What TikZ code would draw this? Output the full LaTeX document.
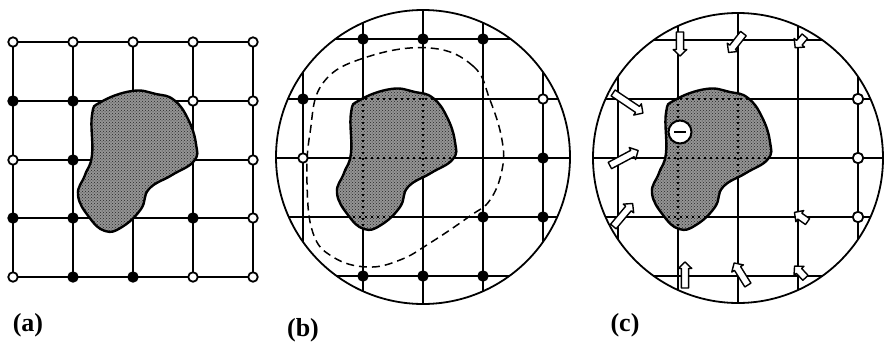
\documentclass[tikz,border=0pt]{standalone}
\usepackage{fontspec}
\setmainfont{Liberation Serif}
\usetikzlibrary{patterns}
\newcommand\blobshape{plot[smooth cycle,tension=0.75] coordinates {(28,-69) (52,-66) (70,-60) (84,-41) (92,-16) (90,1) (68,15) (45,29) (37,49) (18,67) (1,71) (-15,57) (-26,35) (-19,15) (-12,-5) (-12,-45) (-3,-58)}}
% block arrow: #1,#2 centre, #3 angle, #4 length
\newcommand\blockarrow[4]{%
  \begin{scope}[shift={(#1,#2)},rotate=#3]
    \pgfmathsetmacro\ha{#4/2}\pgfmathsetmacro\hb{#4/2-6.5}
    \draw[arrowbody] (-\ha,-3.6) -- (\hb,-3.6) -- (\hb,-6.8) -- (\ha,0) -- (\hb,6.8) -- (\hb,3.6) -- (-\ha,3.6) -- cycle;
  \end{scope}}
\begin{document}
\begin{tikzpicture}[x=1pt,y=-1pt,
  gridline/.style={line width=1.8pt},
  ring/.style={line width=1.8pt},
  nodeopen/.style={circle,draw,line width=1.8pt,fill=white,inner sep=0pt,minimum size=9.5pt},
  nodefull/.style={circle,draw,line width=1.8pt,fill=black,inner sep=0pt,minimum size=9.5pt},
  blobfill/.style={fill=black!42},
  blobdots/.style={pattern=crosshatch dots,pattern color=black!85},
  blobline/.style={line width=2.4pt},
  innerline/.style={line width=2pt,dash pattern=on 2pt off 4pt},
  dashline/.style={line width=1.5pt,dash pattern=on 8pt off 5pt},
  arrowbody/.style={fill=white,line width=1.4pt,line join=round},
  lab/.style={font=\bfseries\fontsize{26}{26}\selectfont,inner sep=0pt}
]
\useasboundingbox (0,0) rectangle (884,343);

% ---------------- panel (a)
\foreach \x in {13,73,133,193,253} \draw[gridline] (\x,42) -- (\x,277);
\foreach \y in {42,101,160,218,277} \draw[gridline] (13,\y) -- (253,\y);
\begin{scope}[shift={(104,160)}]
  \fill[blobfill] \blobshape;
  \fill[blobdots] \blobshape;
  \draw[blobline] \blobshape;
\end{scope}
\foreach \x/\y/\s/\n in {13/42/nodeopen/a11,73/42/nodeopen/a12,133/42/nodeopen/a13,193/42/nodeopen/a14,253/42/nodeopen/a15,
  13/101/nodefull/a21,73/101/nodefull/a22,193/101/nodeopen/a24,253/101/nodeopen/a25,
  13/160/nodeopen/a31,73/160/nodefull/a32,253/160/nodeopen/a35,
  13/218/nodefull/a41,73/218/nodefull/a42,193/218/nodefull/a44,253/218/nodeopen/a45,
  13/277/nodeopen/a51,73/277/nodefull/a52,133/277/nodefull/a53,193/277/nodeopen/a54,253/277/nodeopen/a55}
  \node[\s] (\n) at (\x,\y) {};

% ---------------- panel (b)
\begin{scope}
  \clip (423,157) circle (147);
  \foreach \x in {303,363,423,483,543} \draw[gridline] (\x,0) -- (\x,320);
  \foreach \y in {39,99,158,217,276} \draw[gridline] (260,\y) -- (590,\y);
\end{scope}
\draw[ring] (423,157) circle (147);
\begin{scope}[shift={(363,158)}]
  \fill[blobfill] \blobshape;
  \fill[blobdots] \blobshape;
  \begin{scope}
    \clip \blobshape;
    \foreach \x in {0,60} \draw[innerline] (\x,-90) -- (\x,90);
    \foreach \y in {-59,0,59} \draw[innerline] (-40,\y) -- (110,\y);
  \end{scope}
  \draw[blobline] \blobshape;
\end{scope}
\draw[dashline] plot[smooth cycle,tension=0.7] coordinates {(430,48) (473,66) (490,100) (502,140) (502,170) (490,200) (470,216) (430,243) (400,260) (367,267) (333,257) (313,233) (307,183) (310,133) (323,83) (367,57)};
\foreach \x/\y/\s/\n in {363/39/nodefull/b12,423/39/nodefull/b13,483/39/nodefull/b14,
  303/99/nodefull/b21,543/99/nodeopen/b25,
  303/158/nodeopen/b31,543/158/nodefull/b35,
  483/217/nodefull/b44,543/217/nodefull/b45,
  363/276/nodefull/b52,423/276/nodefull/b53,483/276/nodefull/b54}
  \node[\s] (\n) at (\x,\y) {};

% ---------------- panel (c)
\begin{scope}
  \clip (738,158) circle (145);
  \foreach \x in {618,678,738,798,858} \draw[gridline] (\x,0) -- (\x,320);
  \foreach \y in {40,99,158,217,276} \draw[gridline] (580,\y) -- (884,\y);
\end{scope}
\draw[ring] (738,158) circle (145);
\begin{scope}[shift={(678,158)}]
  \fill[blobfill] \blobshape;
  \fill[blobdots] \blobshape;
  \begin{scope}
    \clip \blobshape;
    \foreach \x in {0,60} \draw[innerline] (\x,-90) -- (\x,90);
    \foreach \y in {-59,0,59} \draw[innerline] (-40,\y) -- (110,\y);
  \end{scope}
  \draw[blobline] \blobshape;
\end{scope}
\node[circle,draw,line width=2pt,fill=white,inner sep=0pt,minimum size=23pt] (minus) at (680,132) {\rule{12pt}{2.4pt}};
\blockarrow{680}{44}{-90}{24}
\blockarrow{736}{43}{-128}{24}
\blockarrow{800}{42}{-130}{15}
\blockarrow{628}{103}{-34}{36}
\blockarrow{624}{158}{28}{32}
\blockarrow{623}{215}{50}{30}
\blockarrow{685}{275}{90}{26}
\blockarrow{741}{274}{122}{26}
\blockarrow{800}{272}{133}{16}
\blockarrow{801}{217}{145}{16}
\node[nodeopen,minimum size=10.5pt] (c25) at (858,99) {};
\node[nodeopen,minimum size=10.5pt] (c35) at (858,158) {};
\node[nodeopen,minimum size=10.5pt] (c45) at (858,217) {};

% ---------------- labels
\node[lab] (la) at (28,325) {(a)};
\node[lab] (lb) at (303,330) {(b)};
\node[lab] (lc) at (625,325) {(c)};
\end{tikzpicture}
\end{document}
